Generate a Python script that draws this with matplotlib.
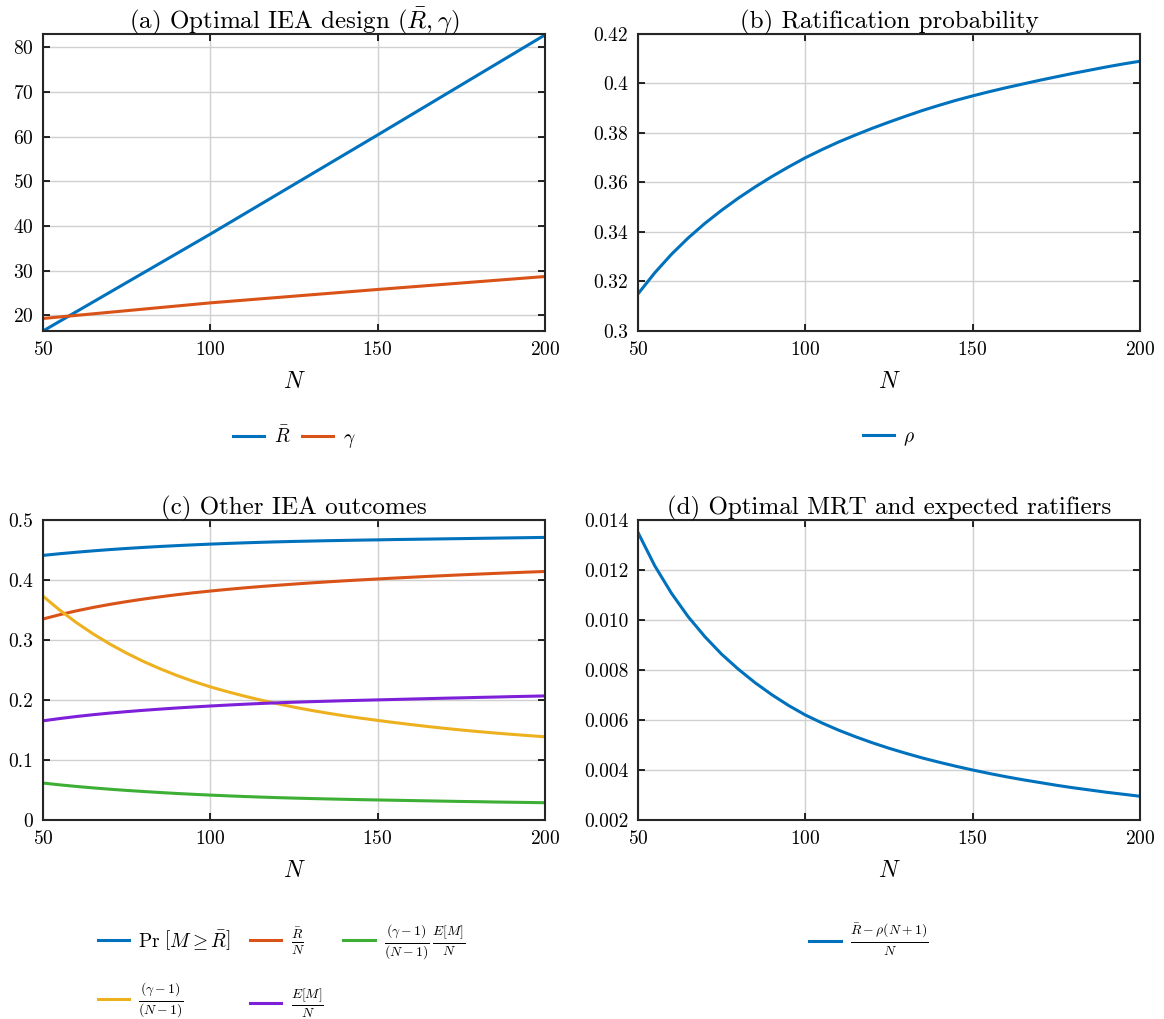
import matplotlib
matplotlib.use('Agg')
import matplotlib.pyplot as plt
import numpy as np

plt.rcParams['font.family'] = 'serif'
plt.rcParams['font.serif'] = ['cmr10']
plt.rcParams['mathtext.fontset'] = 'cm'
plt.rcParams['axes.formatter.use_mathtext'] = True
plt.rcParams['font.size'] = 14

# data
N = [50, 100, 150, 200]
R_bar = [16.5, 38.2, 60.4, 82.8]
gamma = [19.3, 22.8, 25.8, 28.7]

N5 = [50, 55, 60, 65, 70, 75, 80, 85, 90, 95, 100, 105, 110, 115, 120, 125,
      130, 135, 140, 145, 150, 155, 160, 165, 170, 175, 180, 185, 190, 195, 200]
rho = [0.3150, 0.3235, 0.3310, 0.3376, 0.3435, 0.3488, 0.3537, 0.3582, 0.3624, 0.3663,
       0.3700, 0.3733, 0.3764, 0.3792, 0.3819, 0.3844, 0.3868, 0.3891, 0.3912, 0.3932,
       0.3950, 0.3967, 0.3983, 0.3998, 0.4013, 0.4027, 0.4041, 0.4054, 0.4067, 0.4079, 0.4090]
pr_success = [0.4410, 0.4438, 0.4463, 0.4486, 0.4507, 0.4526, 0.4543, 0.4559, 0.4573, 0.4586,
              0.4598, 0.4609, 0.4619, 0.4628, 0.4636, 0.4643, 0.4649, 0.4655, 0.4660, 0.4665,
              0.4669, 0.4674, 0.4678, 0.4682, 0.4686, 0.4690, 0.4694, 0.4698, 0.4702, 0.4706, 0.4710]
R_over_N = [0.3350, 0.3422, 0.3486, 0.3543, 0.3594, 0.3640, 0.3682, 0.3720, 0.3755, 0.3787,
            0.3816, 0.3843, 0.3868, 0.3891, 0.3912, 0.3932, 0.3951, 0.3969, 0.3986, 0.4002,
            0.4017, 0.4032, 0.4046, 0.4060, 0.4073, 0.4086, 0.4098, 0.4110, 0.4121, 0.4132, 0.4142]
g_ratio = [0.3730, 0.3498, 0.3289, 0.3101, 0.2932, 0.2780, 0.2643, 0.2520, 0.2409, 0.2309,
           0.2219, 0.2140, 0.2067, 0.2000, 0.1938, 0.1881, 0.1829, 0.1781, 0.1737, 0.1697,
           0.1660, 0.1624, 0.1590, 0.1558, 0.1528, 0.1500, 0.1474, 0.1450, 0.1428, 0.1407, 0.1387]
EM_over_N = [0.1653, 0.1691, 0.1725, 0.1755, 0.1782, 0.1806, 0.1828, 0.1848, 0.1867, 0.1884,
             0.1900, 0.1915, 0.1929, 0.1942, 0.1953, 0.1963, 0.1972, 0.1980, 0.1988, 0.1995,
             0.2002, 0.2009, 0.2016, 0.2023, 0.2030, 0.2036, 0.2043, 0.2049, 0.2056, 0.2062, 0.2068]
g_times_EM = [0.0616, 0.0586, 0.0559, 0.0535, 0.0513, 0.0493, 0.0475, 0.0458, 0.0442, 0.0428,
              0.0415, 0.0403, 0.0392, 0.0382, 0.0373, 0.0365, 0.0358, 0.0351, 0.0345, 0.0339,
              0.0334, 0.0329, 0.0324, 0.0319, 0.0314, 0.0309, 0.0305, 0.0300, 0.0296, 0.0292, 0.0288]
mrt = [0.01350, 0.01217, 0.01107, 0.01013, 0.00933, 0.00863, 0.00803, 0.00749, 0.00701,
       0.00658, 0.00620, 0.00588, 0.00559, 0.00533, 0.00509, 0.00487, 0.00467, 0.00448,
       0.00431, 0.00415, 0.00400, 0.00386, 0.00373, 0.00361, 0.00350, 0.00339, 0.00329,
       0.00320, 0.00311, 0.00303, 0.00295]

blue = '#0072BD'
orange = '#D95319'
yellow = '#EDB120'
purple = '#7E1FD9'
green = '#3DAF35'

fig = plt.figure(figsize=(11.64, 10.19), dpi=100)
W, H = 1164, 1019


def make_ax(x0, y0, x1, y1):
    ax = fig.add_axes([x0 / W, 1 - y1 / H, (x1 - x0) / W, (y1 - y0) / H])
    ax.set_xlim(50, 200)
    ax.set_xticks([50, 100, 150, 200])
    ax.grid(True, color='#d0d0d0', linewidth=1.0)
    ax.set_axisbelow(True)
    ax.tick_params(direction='in', top=True, right=True, length=5, width=1.2, pad=7)
    for s in ax.spines.values():
        s.set_linewidth(1.5)
        s.set_color('#262626')
    ax.set_xlabel('$N$', fontsize=17, labelpad=9)
    return ax


lw = 2.2
tfs = 18

# (a)
ax = make_ax(43, 34, 545, 331)
ax.plot(N, R_bar, color=blue, lw=lw, label=r'$\bar{R}$')
ax.plot(N, gamma, color=orange, lw=lw, label=r'$\gamma$')
ax.set_ylim(16.5, 83)
ax.set_yticks([20, 30, 40, 50, 60, 70, 80])
ax.set_title(r'(a) Optimal IEA design $(\bar{R},\gamma)$', fontsize=tfs, pad=4)
fig.legend(handles=ax.lines, loc='center', bbox_to_anchor=(294 / W, 1 - 438 / H), ncol=2,
           frameon=False, handlelength=1.6, columnspacing=0.6, handletextpad=0.5)

# (b)
ax = make_ax(638, 34, 1140, 331)
ax.plot(N5, rho, color=blue, lw=lw, label=r'$\rho$')
ax.set_ylim(0.3, 0.42)
ax.set_yticks([0.3, 0.32, 0.34, 0.36, 0.38, 0.4, 0.42])
ax.set_yticklabels(['0.3', '0.32', '0.34', '0.36', '0.38', '0.4', '0.42'])
ax.set_title('(b) Ratification probability', fontsize=tfs, pad=4)
fig.legend(handles=ax.lines, loc='center', bbox_to_anchor=(889 / W, 1 - 438 / H),
           frameon=False, handlelength=1.6, handletextpad=0.5)

# (c)
ax = make_ax(43, 520, 545, 820)
l1, = ax.plot(N5, pr_success, color=blue, lw=lw, label=r'$\mathrm{Pr}\ \left[M \geq \bar{R}\right]$')
l2, = ax.plot(N5, R_over_N, color=orange, lw=lw, label=r'$\frac{\bar{R}}{N}$')
l3, = ax.plot(N5, g_ratio, color=yellow, lw=lw, label=r'$\frac{(\gamma-1)}{(N-1)}$')
l4, = ax.plot(N5, EM_over_N, color=purple, lw=lw, label=r'$\frac{E[M]}{N}$')
l5, = ax.plot(N5, g_times_EM, color=green, lw=lw,
              label=r'$\frac{(\gamma-1)}{(N-1)}\,\frac{E[M]}{N}$')
ax.set_ylim(0, 0.5)
ax.set_yticks([0, 0.1, 0.2, 0.3, 0.4, 0.5])
ax.set_yticklabels(['0', '0.1', '0.2', '0.3', '0.4', '0.5'])
ax.set_title('(c) Other IEA outcomes', fontsize=tfs, pad=4)
fig.legend(handles=[l1, l3, l2, l4, l5], loc='upper left',
           bbox_to_anchor=(80 / W, 1 - 905 / H), ncol=3,
           frameon=False, handlelength=1.6, handletextpad=0.5, columnspacing=1.0,
           labelspacing=1.5)

# (d)
ax = make_ax(638, 520, 1140, 820)
ax.plot(N5, mrt, color=blue, lw=lw, label=r'$\frac{\bar{R}-\rho(N+1)}{N}$')
ax.set_ylim(0.002, 0.014)
ax.set_yticks([0.002, 0.004, 0.006, 0.008, 0.010, 0.012, 0.014])
ax.set_yticklabels(['0.002', '0.004', '0.006', '0.008', '0.010', '0.012', '0.014'])
ax.set_title('(d) Optimal MRT and expected ratifiers', fontsize=tfs, pad=4)
fig.legend(handles=ax.lines, loc='center', bbox_to_anchor=(869 / W, 1 - 940 / H),
           frameon=False, handlelength=1.6, handletextpad=0.5)

fig.savefig('out.png', dpi=100)
